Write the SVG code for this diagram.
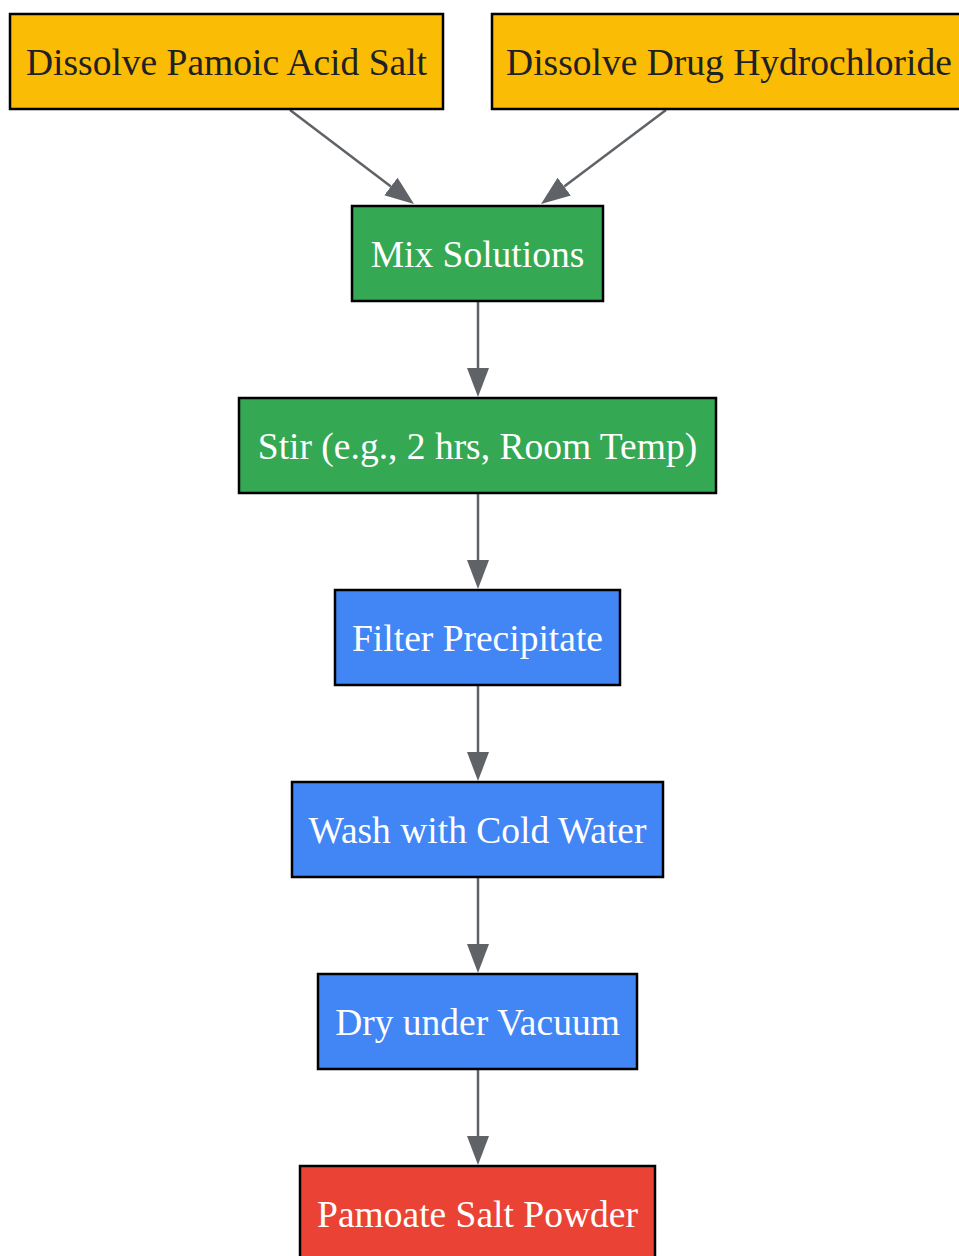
<svg xmlns="http://www.w3.org/2000/svg" width="959" height="1256" viewBox="0 0 959 1256">
<defs>
<style>
.box{stroke:#000;stroke-width:2.5}
.lbl{font-family:"Liberation Serif","Times New Roman",serif;font-size:37.5px;text-anchor:middle}
.dark{fill:#202124}
.light{fill:#ffffff}
.edge{stroke:#5f6368;stroke-width:2.5;fill:none}
</style>
<marker id="ah" markerUnits="userSpaceOnUse" markerWidth="30" markerHeight="23" refX="0" refY="11" orient="auto" viewBox="0 0 30 23">
<path d="M0,0 L29,11 L0,22 z" fill="#5f6368"/>
</marker>
</defs>
<rect width="959" height="1256" fill="#ffffff"/>
<g id="connectors">
<line class="edge" x1="290" y1="110" x2="390.9" y2="186.5" marker-end="url(#ah)"/>
<line class="edge" x1="666" y1="110" x2="564.2" y2="186.6" marker-end="url(#ah)"/>
<line class="edge" x1="478" y1="301" x2="478" y2="368" marker-end="url(#ah)"/>
<line class="edge" x1="478" y1="493" x2="478" y2="560" marker-end="url(#ah)"/>
<line class="edge" x1="478" y1="685" x2="478" y2="752" marker-end="url(#ah)"/>
<line class="edge" x1="478" y1="877" x2="478" y2="944" marker-end="url(#ah)"/>
<line class="edge" x1="478" y1="1069" x2="478" y2="1136" marker-end="url(#ah)"/>
</g>
<g id="n1"><rect class="box" x="10" y="14" width="433" height="95" fill="#fbbc05"/><text class="lbl dark" x="226.5" y="75">Dissolve Pamoic Acid Salt</text></g>
<g id="n2"><rect class="box" x="492" y="14" width="474" height="95" fill="#fbbc05"/><text class="lbl dark" x="729" y="75">Dissolve Drug Hydrochloride</text></g>
<g id="n3"><rect class="box" x="352" y="206" width="251" height="95" fill="#34a853"/><text class="lbl light" x="477.5" y="267">Mix Solutions</text></g>
<g id="n4"><rect class="box" x="239" y="398" width="477" height="95" fill="#34a853"/><text class="lbl light" x="477.5" y="459">Stir (e.g., 2 hrs, Room Temp)</text></g>
<g id="n5"><rect class="box" x="335" y="590" width="285" height="95" fill="#4285f4"/><text class="lbl light" x="477.5" y="651">Filter Precipitate</text></g>
<g id="n6"><rect class="box" x="292" y="782" width="371" height="95" fill="#4285f4"/><text class="lbl light" x="477.5" y="843">Wash with Cold Water</text></g>
<g id="n7"><rect class="box" x="318" y="974" width="319" height="95" fill="#4285f4"/><text class="lbl light" x="477.5" y="1035">Dry under Vacuum</text></g>
<g id="n8"><rect class="box" x="300" y="1166" width="355" height="95" fill="#ea4335"/><text class="lbl light" x="477.5" y="1227">Pamoate Salt Powder</text></g>
</svg>
